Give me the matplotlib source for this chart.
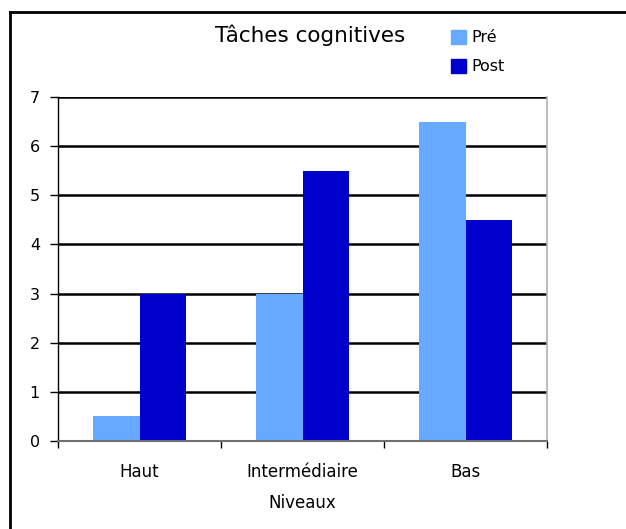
import numpy as np
import matplotlib
matplotlib.use("Agg")
import matplotlib.pyplot as plt
from matplotlib.lines import Line2D
from matplotlib.patches import Patch

categories = ["Haut", "Intermédiaire", "Bas"]
pre_values = [0.5, 3, 6.5]
post_values = [3, 5.5, 4.5]
series_names = ["Pré", "Post"]
y_ticks = [0, 1, 2, 3, 4, 5, 6, 7]

pre_color = "#66AAFF"
post_color = "#0000CC"

W, H = 626, 529
fig = plt.figure(figsize=(W / 100, H / 100), dpi=100)
ax = fig.add_axes([58 / W, 1 - 441 / H, 489 / W, 344 / H])

x = np.arange(len(categories))
w = 1 / 3.5  # excel default gap width 150%
ax.bar(x - w / 2, pre_values, w, color=pre_color, zorder=2, label=series_names[0])
ax.bar(x + w / 2, post_values, w, color=post_color, zorder=2, label=series_names[1])

# black gridlines behind the bars (not at 0, the axis line is grey)
ax.hlines(y_ticks[1:], -0.5, 2.5, colors="black", linewidth=1.8, zorder=1)

ax.set_xlim(-0.5, 2.5)
ax.set_ylim(0, 7)
ax.set_yticks(y_ticks)

# x ticks at the category borders, labels in between
ax.set_xticks(np.arange(-0.5, len(categories), 1))
ax.set_xticklabels([])
ax.set_xticks(x, minor=True)
ax.set_xticklabels(categories, minor=True)
ax.tick_params(axis="x", which="major", direction="out", length=5, width=1, color="black")
ax.tick_params(axis="x", which="minor", length=0, pad=16, labelsize=12)
ax.tick_params(axis="y", direction="out", length=6, width=1, color="black", pad=7, labelsize=11.5)

ax.spines["top"].set_visible(False)
ax.spines["left"].set_color("black")
ax.spines["left"].set_linewidth(1)
ax.spines["right"].set_color("#b0b0b0")
ax.spines["right"].set_linewidth(1.2)
ax.spines["bottom"].set_color("#707070")
ax.spines["bottom"].set_linewidth(1.5)
ax.spines["bottom"].set_zorder(3)

ax.set_xlabel("Niveaux", fontsize=12, labelpad=9)

fig.text(310 / W, 1 - 35 / H, "Tâches cognitives", ha="center", va="center", fontsize=15.5)

handles = [Patch(color=pre_color), Patch(color=post_color)]
fig.legend(handles, series_names, loc="upper left", bbox_to_anchor=(451 / W, 1 - 30 / H),
           frameon=False, fontsize=11.5, handlelength=0.95, handleheight=0.95,
           handletextpad=0.35, labelspacing=0.85, borderaxespad=0, borderpad=0)

# outer frame (only top and left edges show)
fig.add_artist(Line2D([10 / W, 1], [1 - 12 / H, 1 - 12 / H], color="black", linewidth=2,
                      transform=fig.transFigure))
fig.add_artist(Line2D([10 / W, 10 / W], [0, 1 - 12 / H], color="black", linewidth=2,
                      transform=fig.transFigure))

fig.savefig("out.png", dpi=100)
